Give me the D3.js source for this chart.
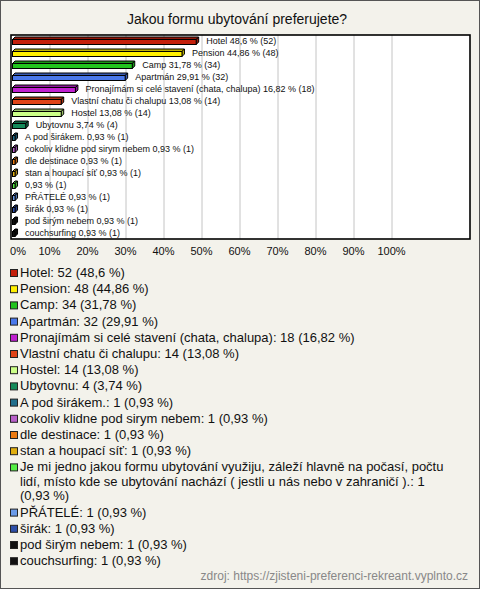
<!DOCTYPE html>
<html><head><meta charset="utf-8">
<script src="https://cdn.jsdelivr.net/npm/d3@7"></script>
<style>html,body{margin:0;padding:0;background:#f3f2eb;}svg{display:block;}</style>
</head><body>
<svg id="c" width="480" height="589"></svg>
<script>
const title = "Jakou formu ubytování preferujete?";
const categories = ["Hotel","Pension","Camp","Apartmán","Pronajímám si celé stavení (chata, chalupa)","Vlastní chatu či chalupu","Hostel","Ubytovnu","A pod širákem.","cokoliv klidne pod sirym nebem","dle destinace","stan a houpací síť","Je mi jedno jakou formu ubytování využiju, záleží hlavně na počasí, počtu lidí, místo kde se ubytování nachází ( jestli u nás nebo v zahraničí ).","PŘÁTELÉ","širák","pod širým nebem","couchsurfing"];
const chartLabels = ["Hotel","Pension","Camp","Apartmán","Pronajímám si celé stavení (chata, chalupa)","Vlastní chatu či chalupu","Hostel","Ubytovnu","A pod širákem.","cokoliv klidne pod sirym nebem","dle destinace","stan a houpací síť","","PŘÁTELÉ","širák","pod širým nebem","couchsurfing"];
const counts = [52,48,34,32,18,14,14,4,1,1,1,1,1,1,1,1,1];
const percents = ["48,6","44,86","31,78","29,91","16,82","13,08","13,08","3,74","0,93","0,93","0,93","0,93","0,93","0,93","0,93","0,93","0,93"];
const colors = ["#c4200c","#fff000","#22c41e","#4a78ea","#c020d0","#e04418","#ccff88","#148a5a","#226f8c","#b860c8","#ec7a10","#e0ae10","#55ee44","#6a9ae8","#2e4fa8","#111111","#111111"];
const xTicks = [0,10,20,30,40,50,60,70,80,90,100];
const source = "zdroj: https://zjisteni-preferenci-rekreant.vyplnto.cz";

const svg = d3.select("#c");
const F = "'Liberation Sans', Arial, sans-serif";
svg.append("rect").attr("x",0.5).attr("y",0.5).attr("width",479).attr("height",588)
  .attr("fill","#f3f2eb").attr("stroke","#555");

svg.append("text").attr("x",237).attr("y",24).attr("text-anchor","middle")
  .attr("font-family",F).attr("font-size",14).attr("fill","#111").text(title);

const plot = {x0:11, x1:470, y0:35, y1:239};
const x = d3.scaleLinear().domain([0,100]).range([11.5,391.5]);
const y = d3.scaleBand().domain(d3.range(categories.length)).range([plot.y0,plot.y1]);

svg.append("rect").attr("x",plot.x0).attr("y",plot.y0).attr("width",plot.x1-plot.x0).attr("height",plot.y1-plot.y0)
  .attr("fill","#fff");
svg.append("g").selectAll("line").data(xTicks.slice(1)).join("line")
  .attr("x1",d=>x(d)+0.5).attr("x2",d=>x(d)+0.5).attr("y1",plot.y0).attr("y2",plot.y1)
  .attr("stroke","#c4c4c4").attr("stroke-width",1);

const pct = percents.map(p=>+p.replace(",","."));
const g = svg.append("g");
const d = 2.5;
categories.forEach((c,i)=>{
  const cy = y(i)+y.bandwidth()/2;
  const xa = x(0)+1, xb = x(pct[i]);
  const top = cy-1.5, bot = cy+3.5;
  const col = colors[i];
  const dark = d3.color(col).darker(0.8);
  // top face
  g.append("path").attr("d",`M${xa},${top}L${xa+d},${top-d}L${xb+d},${top-d}L${xb},${top}Z`)
    .attr("fill",dark).attr("stroke","#000").attr("stroke-width",1).attr("stroke-linejoin","round");
  // side
  g.append("path").attr("d",`M${xb},${top}L${xb+d},${top-d}L${xb+d},${bot-d}L${xb},${bot}Z`)
    .attr("fill",dark).attr("stroke","#000").attr("stroke-width",1);
  // front
  g.append("rect").attr("x",xa).attr("y",top).attr("width",xb-xa).attr("height",bot-top)
    .attr("fill",col).attr("stroke","#000").attr("stroke-width",1);
  const lbl = (chartLabels[i] ? chartLabels[i]+" " : "") + percents[i]+" % ("+counts[i]+")";
  g.append("text").attr("x",xb+10).attr("y",cy+3.2).attr("font-family",F).attr("font-size",9)
    .attr("fill","#111").text(lbl);
});

svg.append("rect").attr("x",plot.x0).attr("y",plot.y0).attr("width",plot.x1-plot.x0).attr("height",plot.y1-plot.y0)
  .attr("fill","none").attr("stroke","#000").attr("stroke-width",1.6);

svg.append("g").selectAll("text").data(xTicks).join("text")
  .attr("x",d=>d===0?x(d)+6.5:x(d)).attr("y",255).attr("text-anchor","middle")
  .attr("font-family",F).attr("font-size",11).attr("fill","#111").text(d=>d+"%");

// legend
const lg = svg.append("g");
let ly = 277;
const maxW = 432;
categories.forEach((c,i)=>{
  const txt = c+": "+counts[i]+" ("+percents[i]+" %)";
  lg.append("rect").attr("x",10.5).attr("y",ly-7.5).attr("width",7).attr("height",7)
    .attr("fill",colors[i]).attr("stroke","#222").attr("stroke-width",1);
  const t = lg.append("text").attr("x",20).attr("y",ly).attr("font-family",F).attr("font-size",13).attr("fill","#111");
  const words = txt.split(" ");
  let line = [], lines = 0;
  let ts = t.append("tspan").attr("x",20).attr("y",ly);
  words.forEach(w=>{
    line.push(w);
    ts.text(line.join(" "));
    if (ts.node().getComputedTextLength()>maxW && line.length>1){
      line.pop(); ts.text(line.join(" "));
      line=[w]; lines++;
      ts = t.append("tspan").attr("x",20).attr("y",ly+lines*14.5).text(w);
    }
  });
  ly += 16.2 + lines*14.5;
});

svg.append("text").attr("x",468).attr("y",580).attr("text-anchor","end")
  .attr("font-family",F).attr("font-size",12).attr("fill","#888").text(source);
</script>
</body></html>
